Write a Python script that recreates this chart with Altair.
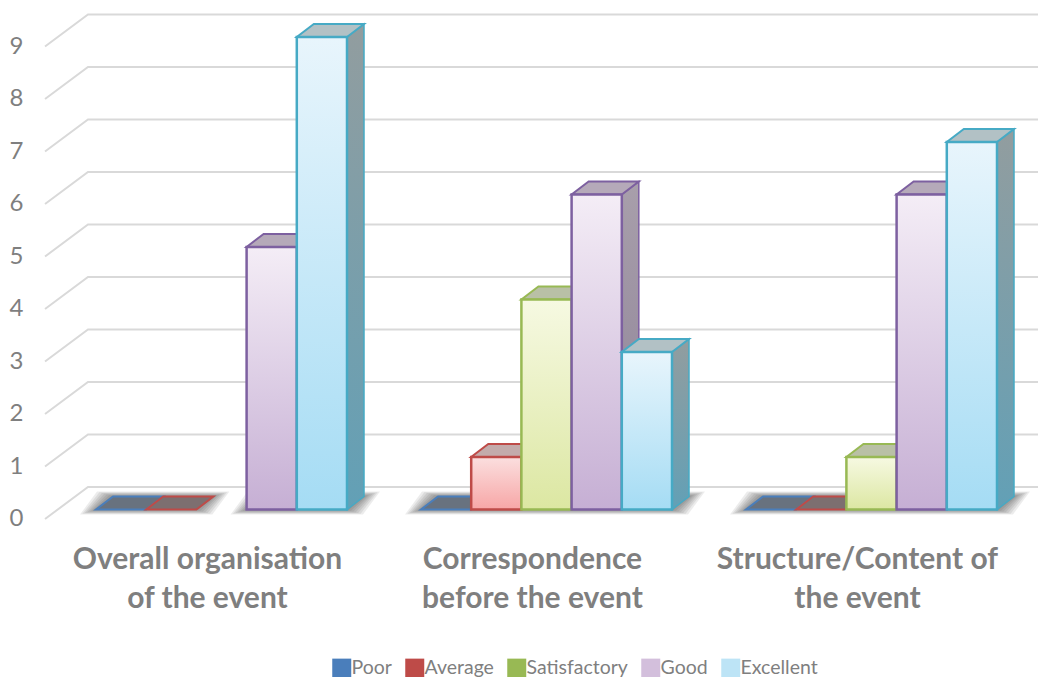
import altair as alt
import pandas as pd

categories = ["Overall organisation\nof the event", "Correspondence\nbefore the event", "Structure/Content of\nthe event"]
series = ["Poor", "Average", "Satisfactory", "Good", "Excellent"]
poor = [0, 0, 0]
average = [0, 1, 0]
satisfactory = [None, 4, 1]
good = [5, 6, 6]
excellent = [9, 3, 7]
ticks = [0, 1, 2, 3, 4, 5, 6, 7, 8, 9]

values = [poor, average, satisfactory, good, excellent]
legend_cols = ["#4a7ebb", "#be4b48", "#98b954", "#d3bfdc", "#bde4f6"]
edge = ["#4a7ebb", "#be4b48", "#98b954", "#7d60a0", "#46aac5"]
front = [("#dbe7f5", "#9dbce0"), ("#fbdfdf", "#f7a6a6"), ("#f6f9e2", "#dce7a2"),
         ("#f4edf6", "#c6afd4"), ("#e8f5fc", "#a5dcf4")]
side = [("#8a96a8", "#6c83a0"), ("#a09090", "#9a7878"), ("#a3aa90", "#98a478"),
        ("#a89fab", "#8c8096"), ("#929d9f", "#62a0b6")]
top_col = ["#aab3c0", "#c3abab", "#b9c0a6", "#b5a9b9", "#b2c1c5"]
zero_col = ["#68727f", "#7d6f70", "#7a8068", "#77707c", "#6d7a80"]

# scale geometry
UNIT = 52.5
BASE = 509.5
DX, DY = 17.0, 13.0 / UNIT
BAR = 50.2
START = 96.0
STEP = 325.0
xs = alt.Scale(domain=[8, 1043], nice=False, zero=False)
ys = alt.Scale(domain=[(BASE - 677) / UNIT, (BASE - 8) / UNIT], nice=False, zero=False)
yaxis = alt.Axis(values=ticks, title=None, domain=False, ticks=False, grid=False, offset=-15,
                 labelPadding=0, labelOffset=9, labelFont="Lato", labelFontSize=24,
                 labelColor="#7f7f7f", labelAlign="right")


def X(f="x"):
    return alt.X(f"{f}:Q", scale=xs, axis=None)


def Y(f="y"):
    return alt.Y(f"{f}:Q", scale=ys, axis=yaxis)


def grad(c0, c1):
    return alt.Gradient(gradient="linear", x1=0, x2=0, y1=0, y2=1,
                        stops=[alt.GradientStop(color=c0, offset=0), alt.GradientStop(color=c1, offset=1)])


def para(x0, x1, y0, y1, dx):
    """horizontal-oriented parallelogram"""
    return pd.DataFrame({"x": [x0, x0 + dx], "x2": [x1, x1 + dx], "y": [y0, y1]})


layers = []

# gridlines
rows = []
for k in ticks:
    rows += [{"k": k, "x": 45, "y": k - 9.5 / UNIT, "o": 0},
             {"k": k, "x": 88, "y": k + 22.5 / UNIT, "o": 1},
             {"k": k, "x": 1038, "y": k + 22.5 / UNIT, "o": 2}]
layers.append(alt.Chart(pd.DataFrame(rows)).mark_line(color="#d9d9d9", strokeWidth=2).encode(
    x=X(), y=Y(), detail="k:N", order="o:Q"))

# floor shadows under contiguous runs of bars
for c in range(len(categories)):
    present = [s for s in range(5) if values[s][c] is not None]
    runs = []
    for s in present:
        if runs and runs[-1][1] == s - 1:
            runs[-1][1] = s
        else:
            runs.append([s, s])
    for a, b in runs:
        x0 = START + STEP * c + BAR * a
        x1 = START + STEP * c + BAR * (b + 1)
        for f in [1.0, 0.85, 0.7, 0.55, 0.4, 0.25, 0.1]:
            sx, sy = 16 * f, 5 * f / UNIT
            d = para(x0 - sx, x1 + sx, -sy, DY + sy, DX)
            layers.append(alt.Chart(d).mark_area(orient="horizontal", color="#000000", opacity=0.075).encode(
                x=X(), x2=alt.X2("x2"), y=Y()))

# bars, drawn from left to right
for c in range(len(categories)):
    for s in range(5):
        v = values[s][c]
        if v is None:
            continue
        x0 = START + STEP * c + BAR * s
        x1 = x0 + BAR
        if v > 0:
            d = pd.DataFrame({"x": [x1, x1 + DX], "y": [v, v + DY], "y2": [0, DY]})
            layers.append(alt.Chart(d).mark_area(color=grad(*side[s]), stroke=edge[s], strokeWidth=1.5).encode(
                x=X(), y=Y(), y2=alt.Y2("y2")))
        d = para(x0, x1, v, v + DY, DX)
        layers.append(alt.Chart(d).mark_area(orient="horizontal", color=top_col[s] if v > 0 else zero_col[s],
                                             stroke=edge[s], strokeWidth=2).encode(
            x=X(), x2=alt.X2("x2"), y=Y()))
        if v > 0:
            d = pd.DataFrame({"x": [x0], "x2": [x1], "y": [v], "y2": [0]})
            layers.append(alt.Chart(d).mark_rect(color=grad(*front[s]), stroke=edge[s], strokeWidth=2.5).encode(
                x=X(), x2=alt.X2("x2"), y=Y(), y2=alt.Y2("y2")))

# category labels
d = pd.DataFrame({"x": [START + STEP * c + BAR * 2.22 for c in range(3)], "y": [-50 / UNIT] * 3, "t": categories})
layers.append(alt.Chart(d).mark_text(font="Lato", fontWeight="bold", fontSize=30, color="#7f7f7f",
                                     lineBreak="\n", lineHeight=39, baseline="middle", align="center").encode(
    x=X(), y=Y(), text="t:N"))

# legend carrier
d = pd.DataFrame({"x": [100.0] * 5, "y": [0.0] * 5, "s": series})
layers.append(alt.Chart(d).mark_point(filled=True, size=0, shape="square").encode(
    x=X(), y=Y(),
    color=alt.Color("s:N", scale=alt.Scale(domain=series, range=legend_cols), sort=series,
                    legend=alt.Legend(title=None, orient="none", legendX=324, legendY=650, direction="horizontal",
                                      columns=5, symbolType="square", symbolSize=361, symbolStrokeWidth=0,
                                      symbolOpacity=1, labelFont="Lato", labelFontSize=19.5, labelColor="#7f7f7f",
                                      labelOffset=0, columnPadding=13, padding=0, labelLimit=200))))

chart = alt.layer(*layers).properties(
    width=1035, height=669, padding=0, autosize=alt.AutoSizeParams(type="none"), background="white"
).configure_view(stroke=None)

chart.save("out.html", embed_options={"renderer": "svg", "actions": False})
